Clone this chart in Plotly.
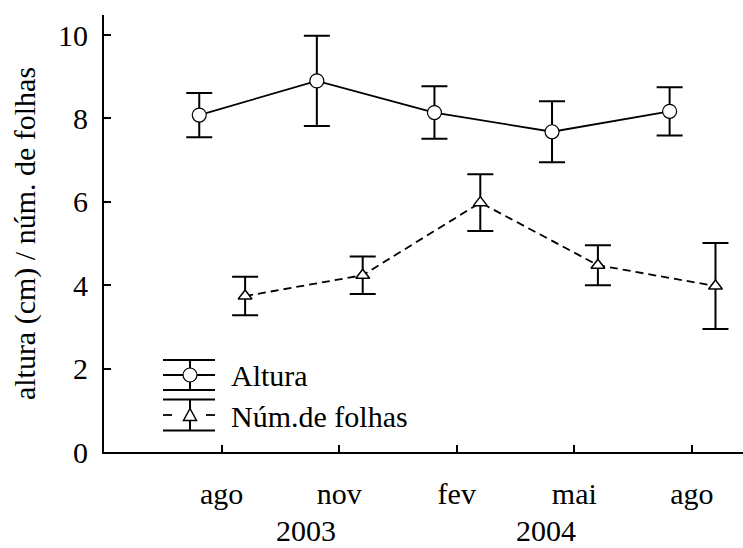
import plotly.graph_objects as go

# --- data -------------------------------------------------------------
months = ["ago", "nov", "fev", "mai", "ago"]
years = ["2003", "2004"]
year_pos = [0.716, 2.755]          # year label positions along the month axis

altura = [8.08, 8.90, 8.14, 7.68, 8.17]
altura_err = [0.53, 1.08, 0.63, 0.73, 0.58]

folhas = [3.74, 4.24, 5.98, 4.48, 3.98]
folhas_err = [0.46, 0.45, 0.68, 0.48, 1.03]

# --- layout constants -------------------------------------------------
W, H = 743, 548
ML, MR, MT, MB = 104, 0, 15, 96
BASE_FONT = "DejaVu Serif"
FONT = "Liberation Serif"
FS = 30
OFF_ALT, OFF_FOL = -0.19, 0.20      # horizontal dodge of the two series

xs = list(range(len(months)))

fig = go.Figure()

fig.add_trace(go.Scatter(
    x=[x + OFF_ALT for x in xs], y=altura,
    mode="lines+markers",
    line=dict(color="black", width=1.8),
    marker=dict(symbol="circle", size=14, color="white",
                line=dict(color="black", width=1.2)),
    error_y=dict(type="data", array=altura_err, visible=True,
                 color="black", thickness=2, width=13),
    showlegend=False,
))

fig.add_trace(go.Scatter(
    x=[x + OFF_FOL for x in xs], y=folhas,
    mode="lines+markers",
    line=dict(color="black", width=1.8, dash="8px,5px"),
    marker=dict(symbol="triangle-up", size=12, color="white",
                line=dict(color="black", width=1.5)),
    error_y=dict(type="data", array=folhas_err, visible=True,
                 color="black", thickness=2, width=13),
    showlegend=False,
))

# --- hand-built legend (error-bar glyphs) -----------------------------
PW, PH = W - ML - MR, H - MT - MB


def px(x):
    return (x - ML) / PW


def py(y):
    return (H - MB - y) / PH


shapes = []


def seg(x0, y0, x1, y1, w=2):
    shapes.append(dict(type="line", xref="paper", yref="paper",
                       x0=px(x0), y0=py(y0), x1=px(x1), y1=py(y1),
                       line=dict(color="black", width=w)))


LX0, LX1, LXC = 163, 215, 190
# Altura glyph
seg(LX0, 360, LX1, 360)
seg(LX0, 390, LX1, 390)
seg(LX0, 375, LX1, 375, 1.8)
seg(LXC, 360, LXC, 390)
shapes.append(dict(type="circle", xref="paper", yref="paper",
                   x0=px(LXC - 7), x1=px(LXC + 7), y0=py(375 + 7), y1=py(375 - 7),
                   fillcolor="white", line=dict(color="black", width=1.2)))
# Núm.de folhas glyph
seg(LX0, 399.5, LX1, 399.5)
seg(LX0, 430.5, LX1, 430.5)
seg(LX0, 415, 172, 415, 1.8)
seg(206, 415, LX1, 415, 1.8)
seg(LXC, 399.5, LXC, 430.5)
shapes.append(dict(type="path", xref="paper", yref="paper",
                   path=f"M {px(LXC - 6.5)},{py(420.5)} L {px(LXC + 6.5)},{py(420.5)} "
                        f"L {px(LXC)},{py(408.5)} Z",
                   fillcolor="white", line=dict(color="black", width=1.5)))

txt_font = dict(family=FONT, size=FS, color="black")
annotations = [
    dict(text="Altura", x=px(229), y=py(375), xref="paper", yref="paper",
         xanchor="left", yanchor="middle", showarrow=False, font=txt_font),
    dict(text="Núm.de folhas", x=px(229), y=py(416), xref="paper", yref="paper",
         xanchor="left", yanchor="middle", showarrow=False, font=txt_font),
]
for yr, pos in zip(years, year_pos):
    annotations.append(dict(text=yr, x=pos, y=py(530), xref="x", yref="paper",
                            xanchor="center", yanchor="middle", showarrow=False,
                            font=txt_font))

fig.update_layout(
    width=W, height=H,
    margin=dict(l=ML, r=MR, t=MT, b=MB, pad=0),
    paper_bgcolor="white", plot_bgcolor="white",
    font=dict(family=BASE_FONT, size=FS, color="black"),
    shapes=shapes, annotations=annotations,
    xaxis=dict(range=[-1.0, 4.434], tickvals=xs, ticktext=months,
               tickfont=txt_font,
               showline=True, linecolor="black", linewidth=2,
               ticks="inside", ticklen=7, tickwidth=1.5, tickcolor="black",
               showgrid=False, zeroline=False, ticklabelstandoff=14),
    yaxis=dict(range=[0, 10.48], tickvals=[0, 2, 4, 6, 8, 10],
               tickfont=txt_font,
               showline=True, linecolor="black", linewidth=2,
               ticks="inside", ticklen=7, tickwidth=1.5, tickcolor="black",
               showgrid=False, zeroline=False, ticklabelstandoff=8,
               title=dict(text="altura (cm) / núm. de folhas", standoff=14,
                          font=txt_font)),
)

fig.write_html("out.html")
